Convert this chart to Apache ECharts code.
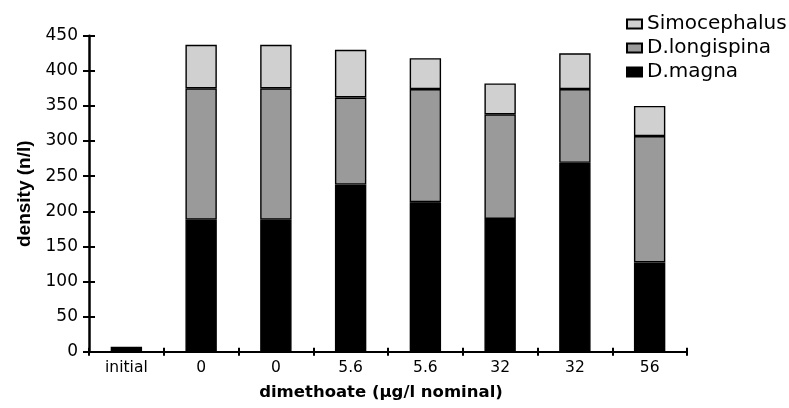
<!DOCTYPE html>
<html>
<head>
<meta charset="utf-8">
<script src="https://cdn.jsdelivr.net/npm/echarts@6/dist/echarts.min.js"></script>
<style>html,body{margin:0;padding:0;background:#fff}#c{width:789px;height:408px}</style>
</head>
<body>
<div id="c"></div>
<script>
const categories = ['initial', '0', '0', '5.6', '5.6', '32', '32', '56'];
const dMagna = [7, 188, 188, 238, 213, 189, 269, 127];
const dLongispina = [null, 187, 187, 124, 161, 149, 105, 180];
const simocephalus = [null, 62, 62, 68, 44, 44, 51, 43];
const yTicks = [0, 50, 100, 150, 200, 250, 300, 350, 400, 450];

const chart = echarts.init(document.getElementById('c'), null, {renderer: 'canvas'});
const font = 'DejaVu Sans';
const barStyle = (c) => ({color: c, borderColor: '#000', borderWidth: 1.4});
const common = {type: 'bar', stack: 's', barWidth: '42%', xAxisIndex: 0, yAxisIndex: 0};
chart.setOption({
  animation: false,
  grid: {left: 89, right: 102, top: 35.7, bottom: 56.3, containLabel: false},
  legend: {
    data: ['Simocephalus', 'D.longispina', 'D.magna'],
    orient: 'vertical', right: 'auto', left: 621, top: 9,
    itemWidth: 15, itemHeight: 9, itemGap: 4,
    textStyle: {fontFamily: font, fontSize: 20, color: '#000', padding: [0, 0, 0, 0]},
    icon: 'rect'
  },
  xAxis: [{
    type: 'category', data: categories,
    axisLine: {lineStyle: {color: '#000', width: 2}},
    axisTick: {show: true, length: 4, alignWithLabel: false, lineStyle: {color: '#000', width: 2}},
    axisLabel: {fontFamily: font, fontSize: 15.5, color: '#000', margin: 8},
    name: 'dimethoate (µg/l nominal)', nameLocation: 'middle', nameGap: 33,
    nameTextStyle: {fontFamily: font, fontWeight: 'bold', fontSize: 16.5, color: '#000', padding: [0, 14, 0, 0]}
  }, {
    type: 'category', data: categories, position: 'bottom',
    axisLine: {show: false},
    axisTick: {show: true, inside: true, length: 4, lineStyle: {color: '#000', width: 2}},
    axisLabel: {show: false}
  }],
  yAxis: [{
    type: 'value', min: 0, max: 450, interval: 50,
    splitLine: {show: false},
    axisLine: {show: true, lineStyle: {color: '#000', width: 2.5}},
    axisTick: {show: true, length: 6, lineStyle: {color: '#000', width: 2}},
    axisLabel: {fontFamily: font, fontSize: 17, color: '#000', margin: 11,
      formatter: (v) => yTicks.includes(v) ? String(v) : ''},
    name: 'density (n/l)', nameLocation: 'middle', nameGap: 54,
    nameTextStyle: {fontFamily: 'Liberation Sans', fontWeight: 'bold', fontSize: 19, color: '#000'}
  }, {
    type: 'value', min: 0, max: 450, interval: 50, position: 'left',
    splitLine: {show: false},
    axisLine: {show: false},
    axisTick: {show: true, inside: true, length: 6, lineStyle: {color: '#000', width: 2}},
    axisLabel: {show: false}
  }],
  series: [
    Object.assign({name: 'D.magna', data: dMagna, itemStyle: barStyle('#000000')}, common),
    Object.assign({name: 'D.longispina', data: dLongispina, itemStyle: barStyle('#9a9a9a')}, common),
    Object.assign({name: 'Simocephalus', data: simocephalus, itemStyle: barStyle('#d0d0d0')}, common)
  ]
});
</script>
</body>
</html>
